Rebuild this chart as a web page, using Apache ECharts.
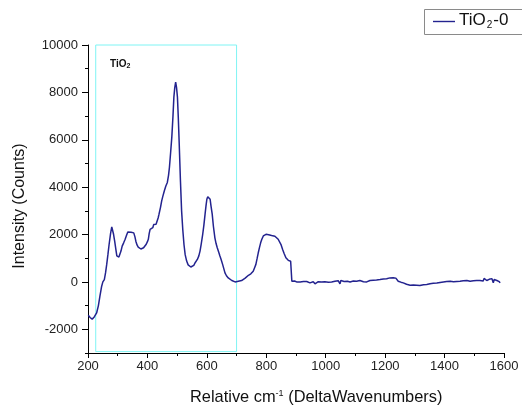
<!DOCTYPE html>
<html>
<head>
<meta charset="utf-8">
<script src="https://cdn.jsdelivr.net/npm/echarts@6/dist/echarts.min.js"></script>
<style>
  html, body { margin: 0; padding: 0; background: #fff; }
  #chart { width: 522px; height: 409px; }
</style>
</head>
<body>
<div id="chart"></div>
<script>
// Raman shift (cm^-1) and measured intensity (counts) for TiO2-0
var wavenumbers = [
  201, 207, 214, 221, 229, 235, 240, 246, 250, 255, 259, 263, 267, 271, 276, 280, 283, 286, 290, 293,
  297, 300, 304, 307, 311, 315, 320, 325, 330, 334, 340, 345, 350, 354, 358, 361, 365, 369, 373, 378,
  383, 387, 392, 396, 400, 403, 406, 409, 414, 418, 421, 425, 429, 432, 436, 439, 444, 448, 452, 457,
  462, 467, 471, 474, 478, 482, 486, 489, 492, 495, 498, 501, 504, 507, 511, 515, 519, 523, 527, 532,
  537, 541, 546, 551, 556, 560, 564, 568, 573, 577, 581, 586, 590, 594, 597, 600, 603, 605, 608, 611,
  614, 618, 622, 627, 631, 635, 640, 644, 648, 653, 657, 661, 666, 672, 678, 684, 690, 695, 700, 706,
  712, 717, 723, 729, 734, 740, 744, 748, 752, 756, 760, 765, 769, 773, 777, 781, 785, 790, 794, 799,
  804, 808, 813, 818, 824, 829, 834, 840, 844, 850, 855, 860, 866, 870, 874, 878, 882, 884, 886, 890,
  895, 902, 908, 914, 920, 925, 930, 936, 941, 947, 953, 958, 964, 970, 975, 981, 986, 992, 997, 1003,
  1009, 1014, 1020, 1026, 1031, 1037, 1042, 1045, 1048, 1051, 1056, 1062, 1067, 1073, 1078, 1082, 1088, 1093, 1099, 1104,
  1110, 1115, 1121, 1127, 1132, 1138, 1143, 1149, 1155, 1160, 1166, 1171, 1177, 1183, 1188, 1194, 1199, 1205, 1210, 1216,
  1222, 1227, 1231, 1233, 1236, 1239, 1242, 1244, 1248, 1253, 1258, 1261, 1264, 1267, 1272, 1278, 1284, 1290, 1295, 1301,
  1306, 1312, 1317, 1323, 1329, 1334, 1340, 1346, 1351, 1357, 1362, 1368, 1374, 1379, 1385, 1390, 1396, 1402, 1407, 1413,
  1419, 1424, 1430, 1436, 1441, 1446, 1452, 1458, 1463, 1469, 1475, 1480, 1486, 1491, 1497, 1503, 1508, 1514, 1519, 1525,
  1530, 1533, 1536, 1539, 1542, 1547, 1550, 1553, 1556, 1559, 1562, 1564, 1567, 1570, 1573, 1576, 1578, 1581, 1584, 1587
];
var intensity = [
  -1410, -1500, -1570, -1480, -1310, -1000, -610, -180, 0, 100, 380, 740, 1150, 1580, 2050, 2320, 2250, 2010, 1700, 1440,
  1100, 1020, 1050, 1090, 1300, 1510, 1650, 1800, 1980, 2110, 2120, 2100, 2090, 2070, 1900, 1720, 1560, 1470, 1410, 1390,
  1400, 1440, 1510, 1590, 1700, 1800, 2050, 2220, 2240, 2290, 2420, 2500, 2430, 2400, 2700, 2860, 3150, 3420, 3620, 3850,
  4050, 4200, 4500, 4830, 5450, 6100, 7000, 7800, 8200, 8430, 8200, 7800, 6900, 5820, 4300, 3000, 2200, 1580, 1150, 880,
  720, 665, 630, 625, 700, 800, 880, 950, 1100, 1300, 1600, 2010, 2400, 2860, 3200, 3490, 3600, 3630, 3580, 3490,
  3200, 2860, 2350, 1860, 1620, 1440, 1250, 1090, 950, 740, 560, 380, 260, 170, 100, 60, 20, 0, 0, 30,
  50, 60, 140, 160, 170, 280, 300, 340, 400, 450, 580, 740, 980, 1230, 1450, 1650, 1800, 1940, 1990, 2010,
  2000, 1990, 1980, 1960, 1950, 1930, 1880, 1800, 1720, 1560, 1370, 1200, 1020, 960, 910, 880, 870, 800, 30, 20,
  40, 0, 10, 0, 30, 15, -10, 20, 0, -40, -20, 10, -80, -30, 10, 30, 0, -20, 10, -40,
  -10, 20, 0, 10, 30, 60, 50, -20, -80, 60, 10, 20, 0, 30, 10, 0, 20, 40, 10, 30,
  20, 60, 30, 10, 30, 0, 40, 60, 50, 70, 60, 80, 90, 100, 90, 120, 110, 130, 140, 170,
  150, 180, 160, 240, 160, 230, 80, 30, 50, -10, 20, -40, 30, -60, -100, -130, -140, -145, -130, -150,
  -140, -155, -150, -140, -120, -100, -110, -90, -80, -70, -60, -40, -50, -30, -20, -10, 0, -10, 20, 10,
  30, 20, 10, 30, 20, 0, 30, 40, 50, 40, 60, 50, 30, 40, 50, 40, 60, 50, 60, 80,
  40, 150, 100, 170, 60, 30, 110, 100, 40, 140, 90, -40, 100, 140, 80, 60, 100, 90, 10, -40
];

// Axis ticks
var yMajorTicks = [-2000, 0, 2000, 4000, 6000, 8000, 10000];
var yMinorTicks = [-3000, -1000, 1000, 3000, 5000, 7000, 9000];

// Highlighted TiO2 band region
var bandStart = 226, bandEnd = 700;
var bandTop = 10000, bandBottom = -2940;

var seriesData = wavenumbers.map(function (w, i) { return [w, intensity[i]]; });

var chart = echarts.init(document.getElementById('chart'), null, { renderer: 'canvas' });
var font = 'Liberation Sans, Arial, sans-serif';
var lineColor = '#23238f';
var plainNumber = function (v) { return String(v); };

chart.setOption({
  animation: false,
  backgroundColor: '#ffffff',
  grid: { left: 88, right: 18, top: 45, bottom: 56, containLabel: false },
  xAxis: {
    type: 'value', min: 200, max: 1600, interval: 200,
    axisLine: { show: true, onZero: false, lineStyle: { color: '#000', width: 1 } },
    axisTick: { show: true, length: 5, lineStyle: { color: '#000' } },
    minorTick: { show: true, splitNumber: 2, length: 3, lineStyle: { color: '#000' } },
    splitLine: { show: false },
    axisLabel: { fontFamily: font, fontSize: 13, color: '#222', margin: 7, formatter: plainNumber }
  },
  yAxis: [
    {
      type: 'value', min: -3000, max: 10000,
      axisLine: { show: true, onZero: false, lineStyle: { color: '#000', width: 1 } },
      axisTick: { show: true, length: 6, customValues: yMajorTicks, lineStyle: { color: '#000' } },
      splitLine: { show: false },
      axisLabel: { customValues: yMajorTicks, fontFamily: font, fontSize: 13, color: '#222', margin: 10, formatter: plainNumber }
    },
    {
      type: 'value', min: -3000, max: 10000, position: 'left',
      axisLine: { show: false },
      axisTick: { show: true, length: 3, customValues: yMinorTicks, lineStyle: { color: '#000' } },
      splitLine: { show: false },
      axisLabel: { show: false }
    }
  ],
  graphic: [
    // legend frame (runs off the right edge of the canvas)
    {
      type: 'polyline', z: 10,
      shape: { points: [[540, 9.5], [424.5, 9.5], [424.5, 34.5], [540, 34.5]] },
      style: { fill: null, stroke: '#8a8a8a', lineWidth: 1 }
    },
    {
      type: 'line', shape: { x1: 433, y1: 21.5, x2: 455, y2: 21.5 },
      style: { stroke: lineColor, lineWidth: 1.4 }, z: 11
    },
    {
      type: 'text', left: 459, top: 12, z: 11,
      style: {
        text: '{a|TiO}{b|2}{a|-0}',
        rich: {
          a: { fontFamily: font, fontSize: 17, fill: '#111' },
          b: { fontFamily: font, fontSize: 10, fill: '#111', padding: [10, 1, 0, 1] }
        }
      }
    },
    // axis titles
    {
      type: 'text', left: 190, top: 389,
      style: {
        text: '{a|Relative cm}{s|-1}{a| (DeltaWavenumbers)}',
        rich: {
          a: { fontFamily: font, fontSize: 16.4, fill: '#111' },
          s: { fontFamily: font, fontSize: 9, fill: '#111', padding: [0, 0, 8, 0] }
        }
      }
    },
    {
      type: 'text', x: 20, y: 206, rotation: Math.PI / 2,
      style: {
        text: 'Intensity (Counts)', fontFamily: font, fontSize: 16, fill: '#111',
        align: 'center', verticalAlign: 'middle'
      }
    },
    // band label
    {
      type: 'text', left: 110, top: 59,
      style: {
        text: '{a|TiO}{b|2}',
        rich: {
          a: { fontFamily: font, fontSize: 10, fontWeight: 'bold', fill: '#111' },
          b: { fontFamily: font, fontSize: 7, fontWeight: 'bold', fill: '#111', padding: [4, 0, 0, 0] }
        }
      }
    }
  ],
  series: [
    {
      name: 'TiO2-0',
      type: 'line',
      data: seriesData,
      showSymbol: false,
      symbol: 'none',
      smooth: false,
      clip: false,
      lineStyle: { color: lineColor, width: 1.5 },
      itemStyle: { color: lineColor },
      markArea: {
        silent: true,
        itemStyle: { color: 'rgba(0,0,0,0)', borderColor: '#7ff4f4', borderWidth: 1 },
        data: [[{ xAxis: bandStart, yAxis: bandTop }, { xAxis: bandEnd, yAxis: bandBottom }]]
      }
    }
  ]
});
</script>
</body>
</html>
